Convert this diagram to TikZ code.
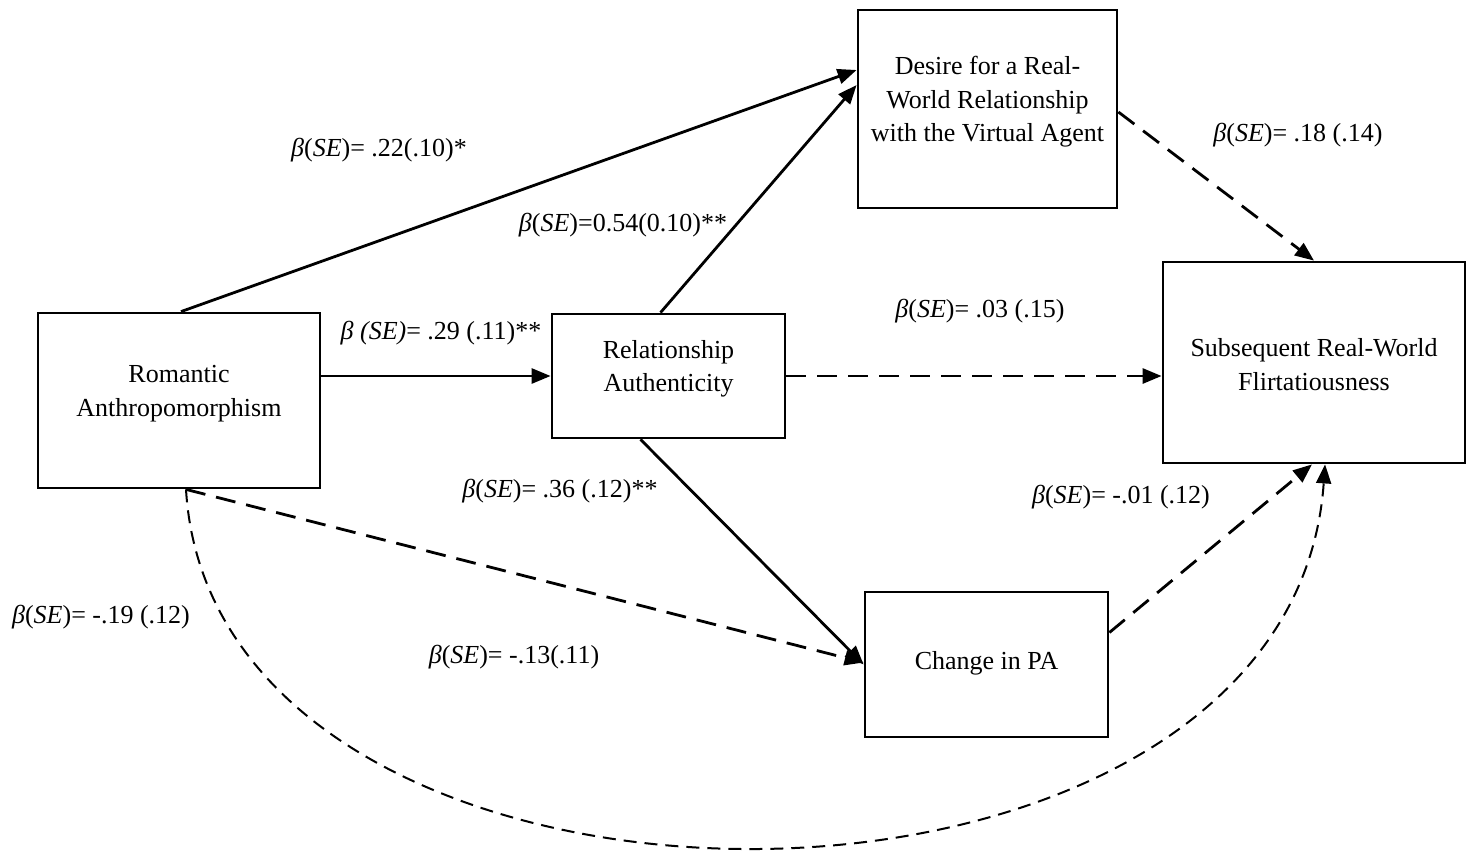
\documentclass[tikz,border=0pt]{standalone}
\usepackage{fontspec}
\setmainfont{Liberation Serif}
\usetikzlibrary{arrows.meta,calc}
\newcommand{\bse}{\textit{β}(\textit{SE})}
\begin{document}
\begin{tikzpicture}[x=1pt,y=-1pt,
  every node/.style={font=\fontsize{26}{33.5}\selectfont},
  box/.style={draw,line width=2.8pt,inner sep=0pt},
  txt/.style={inner sep=0pt,align=center},
  lab/.style={inner sep=0pt,anchor=center},
  arr/.style={line width=2.8pt,-{Triangle[length=19pt,width=15pt]}},
  dsh/.style={arr,dash pattern=on 20pt off 11pt},
  curv/.style={line width=2pt,dash pattern=on 13pt off 8pt,-{Triangle[length=19pt,width=15pt]}}]
\useasboundingbox (0,0) rectangle (1473,852);
\node[box,minimum width=282pt,minimum height=175pt] (RA) at (179,400.5) {};
\node[box,minimum width=233pt,minimum height=124pt] (RE) at (668.5,376) {};
\node[box,minimum width=259pt,minimum height=198pt] (DE) at (987.5,109) {};
\node[box,minimum width=302pt,minimum height=201pt] (SU) at (1314,362.5) {};
\node[box,minimum width=243pt,minimum height=145pt] (CH) at (986.5,664.5) {};
\node[txt] (RAt) at ([yshift=7pt]RA.center) {Romantic\\Anthropomorphism};
\node[txt] (REt) at ([yshift=7pt]RE.center) {Relationship\\Authenticity};
\node[txt] (DEt) at ([yshift=7pt]DE.center) {Desire for a Real-\\World Relationship\\with the Virtual Agent};
\node[txt] (SUt) at ([yshift=-2pt]SU.center) {Subsequent Real-World\\Flirtatiousness};
\node[txt] (CHt) at ([yshift=1pt]CH.center) {Change in PA};

\coordinate (a1s) at ([xshift=2pt]RA.north);
\coordinate (a1e) at ([yshift=39pt]DE.west);
\coordinate (a2s) at (RA.east |- RE.west);
\coordinate (a3s) at ([xshift=-8pt]RE.north);
\coordinate (a3e) at ([yshift=24pt]DE.west);
\coordinate (a4e) at (SU.west |- RE.east);
\coordinate (a5s) at ([xshift=-28pt]RE.south);
\coordinate (a6s) at ([xshift=7pt]RA.south);
\coordinate (a6e) at ([yshift=2pt]CH.west);
\coordinate (a7s) at ([yshift=-3pt]DE.east);
\coordinate (a8s) at ([yshift=32pt]CH.east);
\coordinate (a8e) at ([xshift=-2pt]SU.south);
\coordinate (a9e) at ([xshift=11pt]SU.south);

\draw[arr] (a1s) -- (a1e);
\draw[arr] (a2s) -- (RE.west);
\draw[arr] (a3s) -- (a3e);
\draw[dsh] (RE.east) -- (a4e);
\draw[arr] (a5s) -- (CH.west);
\draw[dsh] (a6s) -- (a6e);
\draw[dsh] (a7s) -- (SU.north);
\draw[dsh] (a8s) -- (a8e);
\draw[curv] (a6s) .. controls (215,970) and (1290,970) .. (a9e);

\node[lab] (L1) at (379,150) {\bse= .22(.10)*};
\node[lab] (L2) at (441,333) {\textit{β (SE)}= .29 (.11)**};
\node[lab] (L3) at (623,225) {\bse=0.54(0.10)**};
\node[lab] (L4) at (560,491) {\bse= .36 (.12)**};
\node[lab] (L5) at (101,617) {\bse= -.19 (.12)};
\node[lab] (L6) at (514,657) {\bse= -.13(.11)};
\node[lab] (L7) at (1298,135) {\bse= .18 (.14)};
\node[lab] (L8) at (980,311) {\bse= .03 (.15)};
\node[lab] (L9) at (1121,497) {\bse= -.01 (.12)};
\end{tikzpicture}
\end{document}
